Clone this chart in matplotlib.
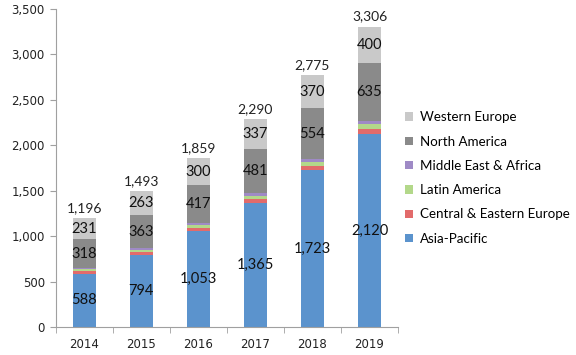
import numpy as np
import matplotlib
matplotlib.use('Agg')
import matplotlib.pyplot as plt
from matplotlib.ticker import FuncFormatter, FixedLocator

years = ['2014', '2015', '2016', '2017', '2018', '2019']
regions = ['Asia-Pacific', 'Central & Eastern Europe', 'Latin America',
           'Middle East & Africa', 'North America', 'Western Europe']

asia_pacific = [588, 794, 1053, 1365, 1723, 2120]
central_eastern_europe = [24, 29, 36, 43, 51, 60]
latin_america = [21, 26, 31, 38, 46, 55]
middle_east_africa = [14, 18, 22, 26, 31, 36]
north_america = [318, 363, 417, 481, 554, 635]
western_europe = [231, 263, 300, 337, 370, 400]
totals = [1196, 1493, 1859, 2290, 2775, 3306]

series = [asia_pacific, central_eastern_europe, latin_america,
          middle_east_africa, north_america, western_europe]
colors = ['#5b93cd', '#e26b6b', '#b3d88a', '#9f8ac6', '#8a8a8a', '#c9c9c9']
labelled = [True, False, False, False, True, True]

plt.rcParams['font.family'] = ['Lato', 'DejaVu Sans']

fig = plt.figure(figsize=(5.76, 3.55), dpi=100)
ax = fig.add_axes([0.097, 0.079, 0.594, 0.896])

x = np.arange(len(years))
bottom = np.zeros(len(years))
handles = []
for name, vals, col, lab in zip(regions, series, colors, labelled):
    vals = np.array(vals, dtype=float)
    b = ax.bar(x, vals, 0.41, bottom=bottom, color=col, label=name)
    handles.append(b)
    if lab:
        for xi, v, bt in zip(x, vals, bottom):
            ax.text(xi, bt + v / 2, f'{int(v):,}', ha='center', va='center',
                    fontsize=10.5, color='#111111')
    bottom += vals

for xi, t in zip(x, totals):
    ax.text(xi, t + 45, f'{t:,}', ha='center', va='bottom', fontsize=10,
            color='#222222')

ax.set_xlim(-0.5, 5.5)
ax.set_ylim(0, 3500)
ax.set_yticks(np.arange(0, 3501, 500))
ax.yaxis.set_major_formatter(FuncFormatter(lambda v, p: f'{int(v):,}'))
ax.set_xticks(x)
ax.set_xticklabels(years)
ax.xaxis.set_minor_locator(FixedLocator(np.arange(-0.5, 6, 1)))
ax.tick_params(axis='x', which='major', length=0, pad=8)
ax.tick_params(axis='x', which='minor', length=4, color='#a0a0a0')
ax.tick_params(axis='y', length=4, color='#a0a0a0', pad=4)
for lbl in ax.get_xticklabels() + ax.get_yticklabels():
    lbl.set_fontfamily('DejaVu Sans')
    lbl.set_fontsize(8.5)
    lbl.set_color('#222222')

for s in ['top', 'right']:
    ax.spines[s].set_visible(False)
for s in ['left', 'bottom']:
    ax.spines[s].set_color('#a0a0a0')

leg = fig.legend(handles[::-1], regions[::-1], loc='upper left',
                 bbox_to_anchor=(0.6915, 0.705), frameon=False, fontsize=9.6,
                 handlelength=0.6, handleheight=0.6, labelspacing=0.92,
                 handletextpad=0.5, borderpad=0)

fig.savefig('out.png', dpi=100)
